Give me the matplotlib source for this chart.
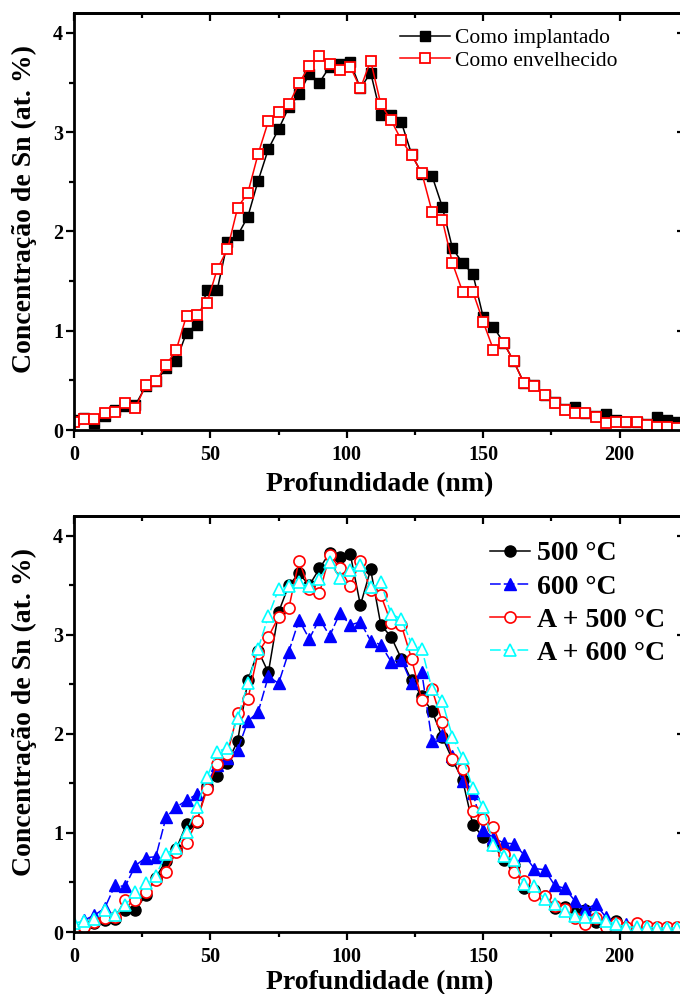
import numpy as np
import matplotlib
matplotlib.use("Agg")
import matplotlib.pyplot as plt
from matplotlib.ticker import MultipleLocator

# ------------------------------------------------------------
# Data
# ------------------------------------------------------------
depth = [0, 3.75, 7.5, 11.25, 15, 18.75, 22.5, 26.25, 30, 33.75,
         37.5, 41.25, 45, 48.75, 52.5, 56.25, 60, 63.75, 67.5, 71.25,
         75, 78.75, 82.5, 86.25, 90, 93.75, 97.5, 101.25, 105, 108.75,
         112.5, 116.25, 120, 123.75, 127.5, 131.25, 135, 138.75, 142.5, 146.25,
         150, 153.75, 157.5, 161.25, 165, 168.75, 172.5, 176.25, 180, 183.75,
         187.5, 191.25, 195, 198.75, 202.5, 206.25, 210, 213.75, 217.5, 221.25]

# top panel
implantado = [0.10, 0.12, 0.07, 0.14, 0.20, 0.24, 0.25, 0.44, 0.49, 0.62,
              0.70, 0.98, 1.06, 1.41, 1.41, 1.89, 1.96, 2.15, 2.51, 2.83,
              3.03, 3.25, 3.38, 3.59, 3.50, 3.66, 3.69, 3.71, 3.44, 3.60,
              3.17, 3.17, 3.10, 2.78, 2.58, 2.56, 2.25, 1.83, 1.68, 1.57,
              1.14, 1.04, 0.88, 0.69, 0.47, 0.45, 0.35, 0.28, 0.21, 0.23,
              0.17, 0.14, 0.16, 0.10, 0.08, 0.08, 0.06, 0.13, 0.10, 0.08]
envelhecido = [0.08, 0.11, 0.11, 0.17, 0.18, 0.27, 0.22, 0.45, 0.49, 0.65,
               0.81, 1.15, 1.16, 1.28, 1.62, 1.82, 2.24, 2.39, 2.78, 3.11,
               3.20, 3.28, 3.49, 3.67, 3.77, 3.69, 3.63, 3.66, 3.44, 3.72,
               3.28, 3.12, 2.92, 2.77, 2.59, 2.20, 2.12, 1.68, 1.39, 1.39,
               1.09, 0.81, 0.88, 0.69, 0.47, 0.44, 0.35, 0.27, 0.20, 0.17,
               0.17, 0.13, 0.07, 0.08, 0.08, 0.08, 0.05, 0.03, 0.03, 0.02]

# bottom panel
t500 = [0.01, 0.06, 0.09, 0.12, 0.13, 0.22, 0.22, 0.37, 0.55, 0.72,
        0.84, 1.09, 1.11, 1.47, 1.58, 1.71, 1.93, 2.54, 2.84, 2.62,
        3.23, 3.50, 3.62, 3.50, 3.67, 3.83, 3.79, 3.82, 3.30, 3.66,
        3.10, 2.98, 2.76, 2.54, 2.38, 2.23, 1.97, 1.74, 1.53, 1.08,
        0.96, 0.88, 0.73, 0.68, 0.44, 0.42, 0.36, 0.24, 0.25, 0.19,
        0.22, 0.10, 0.07, 0.11, 0.04, 0.03, 0.03, 0.02, 0.02, 0.02]
t600 = [0.02, 0.12, 0.17, 0.24, 0.47, 0.46, 0.67, 0.75, 0.76, 1.16,
        1.26, 1.33, 1.39, 1.50, 1.69, 1.76, 1.84, 2.13, 2.22, 2.58,
        2.51, 2.83, 3.15, 2.96, 3.16, 2.99, 3.22, 3.10, 3.13, 2.94,
        2.90, 2.73, 2.75, 2.51, 2.62, 1.93, 1.99, 1.78, 1.52, 1.40,
        1.03, 0.95, 0.90, 0.89, 0.78, 0.64, 0.63, 0.47, 0.44, 0.31,
        0.23, 0.28, 0.15, 0.09, 0.08, 0.04, 0.03, 0.03, 0.03, 0.03]
a500 = [0.00, 0.05, 0.10, 0.14, 0.15, 0.32, 0.32, 0.40, 0.52, 0.61,
        0.81, 0.90, 1.12, 1.44, 1.70, 1.80, 2.21, 2.35, 2.82, 2.98,
        3.18, 3.27, 3.75, 3.46, 3.42, 3.81, 3.67, 3.49, 3.75, 3.45,
        3.40, 3.12, 3.10, 2.76, 2.34, 2.45, 2.12, 1.75, 1.65, 1.22,
        1.14, 1.06, 0.79, 0.61, 0.51, 0.37, 0.36, 0.26, 0.23, 0.14,
        0.08, 0.14, 0.05, 0.09, 0.05, 0.09, 0.06, 0.05, 0.05, 0.05]
a600 = [0.09, 0.11, 0.13, 0.22, 0.17, 0.27, 0.40, 0.49, 0.57, 0.79,
        0.85, 1.01, 1.26, 1.56, 1.82, 1.86, 2.16, 2.51, 2.86, 3.19,
        3.46, 3.49, 3.53, 3.49, 3.56, 3.74, 3.57, 3.65, 3.71, 3.48,
        3.53, 3.21, 3.16, 2.91, 2.86, 2.45, 2.33, 1.97, 1.76, 1.45,
        1.26, 0.88, 0.77, 0.73, 0.48, 0.46, 0.33, 0.28, 0.21, 0.16,
        0.15, 0.15, 0.11, 0.08, 0.05, 0.05, 0.05, 0.04, 0.04, 0.04]

# ------------------------------------------------------------
# Style
# ------------------------------------------------------------
plt.rcParams['font.family'] = ['Liberation Serif', 'DejaVu Serif']

W, H = 680, 994
fig = plt.figure(figsize=(W / 100, H / 100), dpi=100)


def px_axes(left, top, right, bottom):
    return fig.add_axes([left / W, 1 - bottom / H, (right - left) / W, (bottom - top) / H])


def style_axes(ax, xpad):
    ax.set_xlim(0, 224)
    ax.set_ylim(0, 4.2)
    for s in ax.spines.values():
        s.set_linewidth(2.0)
    ax.xaxis.set_major_locator(MultipleLocator(50))
    ax.xaxis.set_minor_locator(MultipleLocator(25))
    ax.yaxis.set_major_locator(MultipleLocator(1))
    ax.yaxis.set_minor_locator(MultipleLocator(0.5))
    ax.tick_params(which='both', direction='out', width=1.6, top=False, right=False)
    ax.tick_params(which='major', length=6)
    ax.tick_params(which='minor', length=3.5)
    ax.tick_params(axis='x', pad=5, labelsize=14.5)
    ax.tick_params(axis='y', pad=2, labelsize=14.5)
    for lab in ax.get_xticklabels() + ax.get_yticklabels():
        lab.set_fontweight('bold')
    # mirrored axes with inward ticks
    top = ax.secondary_xaxis('top')
    top.xaxis.set_major_locator(MultipleLocator(50))
    top.xaxis.set_minor_locator(MultipleLocator(25))
    top.tick_params(which='both', direction='in', width=1.6, labeltop=False)
    top.tick_params(which='major', length=6)
    top.tick_params(which='minor', length=3.5)
    top.spines['top'].set_linewidth(2.0)
    right = ax.secondary_yaxis('right')
    right.yaxis.set_major_locator(MultipleLocator(1))
    right.yaxis.set_minor_locator(MultipleLocator(0.5))
    right.tick_params(which='both', direction='in', width=1.6, labelright=False)
    right.tick_params(which='major', length=6)
    right.tick_params(which='minor', length=3.5)
    ax.set_xlabel('Profundidade (nm)', fontsize=20, fontweight='bold', labelpad=xpad)
    ax.set_ylabel('Concentração de Sn (at. %)', fontsize=20, fontweight='bold')
    ax.yaxis.set_label_coords(-0.06, 0.53)


# ------------------------------------------------------------
# Top panel
# ------------------------------------------------------------
ax1 = px_axes(74, 13, 685, 430)
ax1.plot(depth, implantado, '-s', color='black', lw=1.1, ms=7,
         mfc='black', mec='black', label='Como implantado')
ax1.plot(depth, envelhecido, '-s', color='red', lw=1.1, ms=7,
         mfc='white', mec='red', mew=1.3, label='Como envelhecido')
style_axes(ax1, 5)
ax1.legend(loc='upper left', bbox_to_anchor=(400 / W, 1 - 28 / H),
           bbox_transform=fig.transFigure, frameon=False, fontsize=15.5,
           borderpad=0, borderaxespad=0, handlelength=2.3, handletextpad=0.25,
           labelspacing=0.13, numpoints=1)

# ------------------------------------------------------------
# Bottom panel
# ------------------------------------------------------------
ax2 = px_axes(74, 516, 685, 932)
ax2.plot(depth, t500, '-o', color='black', lw=1.1, ms=8,
         mfc='black', mec='black', label='500 °C')
ax2.plot(depth, t600, '^', ls=(0, (7, 2)), color='blue', lw=1.1, ms=8,
         mfc='blue', mec='blue', label='600 °C')
ax2.plot(depth, a500, '-o', color='red', lw=1.1, ms=8,
         mfc='white', mec='red', mew=1.2, label='A + 500 °C')
ax2.plot(depth, a600, '^', ls=(0, (7, 2)), color='cyan', lw=1.1, ms=8,
         mfc='white', mec='cyan', mew=1.2, label='A + 600 °C')
style_axes(ax2, 2)
leg = ax2.legend(loc='upper left', bbox_to_anchor=(490 / W, 1 - 541 / H),
                 bbox_transform=fig.transFigure, frameon=False,
                 prop={'size': 20, 'weight': 'bold'},
                 borderpad=0, borderaxespad=0, handlelength=1.45,
                 handletextpad=0.25, labelspacing=0.28, numpoints=1)

fig.savefig('out.png', dpi=100)
